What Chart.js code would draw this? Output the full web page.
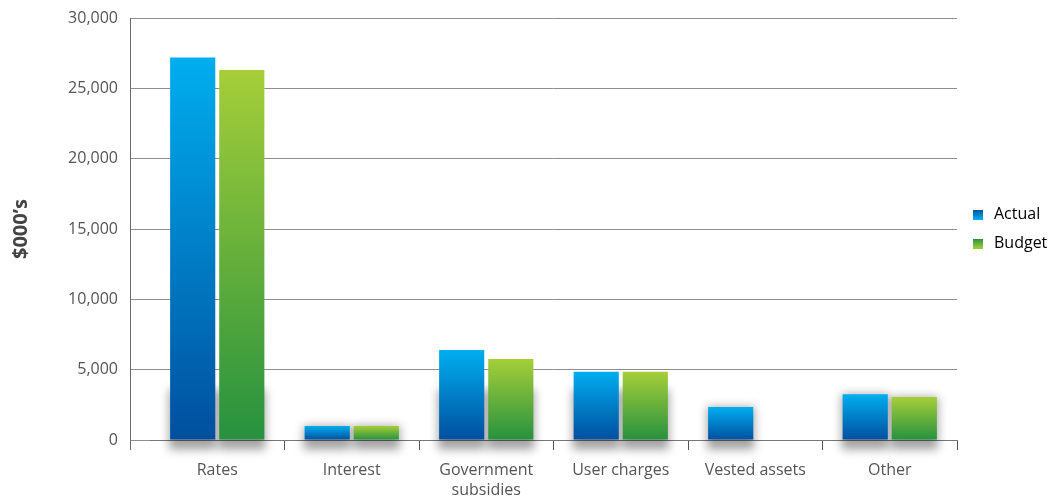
<!DOCTYPE html>
<html>
<head>
<meta charset="utf-8">
<script src="https://cdn.jsdelivr.net/npm/chart.js@4"></script>
<style>
  html, body { margin: 0; padding: 0; background: #fff; }
  #wrap { width: 1054px; height: 499px; position: relative; }
</style>
</head>
<body>
<div id="wrap"><canvas id="revenueChart"></canvas></div>
<script>
// Values ($000's)
const categories = ['Rates', 'Interest', ['Government', 'subsidies'], 'User charges', 'Vested assets', 'Other'];
const actualValues = [27200, 1000, 6400, 4850, 2350, 3250];
const budgetValues = [26300, 1000, 5750, 4850, null, 3050];
const yTicks = [0, 5000, 10000, 15000, 20000, 25000, 30000];

const FONT = "'Open Sans', 'Noto Sans', sans-serif";

const palette = {
  actual: { top: '#00aeef', bottom: '#004f9e' },
  budget: { top: '#a6ce39', bottom: '#26913f' }
};

// gradient per bar, running from its top to the baseline
const barGradient = (colors) => (c) => {
  const chart = c.chart;
  if (!chart.chartArea || c.raw == null) return colors.bottom;
  const y = chart.scales.y;
  const top = y.getPixelForValue(c.raw);
  const bot = y.getPixelForValue(0);
  const g = chart.ctx.createLinearGradient(0, top, 0, bot);
  g.addColorStop(0, colors.top);
  g.addColorStop(1, colors.bottom);
  return g;
};

// small gradient squares for the legend
const legendSwatch = (colors) => {
  const cv = document.createElement('canvas');
  cv.width = 10; cv.height = 10;
  const cx = cv.getContext('2d');
  const g = cx.createLinearGradient(0, 0, 0, 10);
  g.addColorStop(0, colors.bottom);
  g.addColorStop(1, colors.top);
  cx.fillStyle = g;
  cx.fillRect(0, 0, 10, 10);
  return cv;
};

// soft shadow under the lower part of each bar
const barShadows = {
  id: 'barShadows',
  beforeDatasetsDraw(chart) {
    const ctx = chart.ctx;
    ctx.save();
    ctx.filter = 'blur(5px)';
    ctx.fillStyle = 'rgba(0,0,0,0.36)';
    chart.data.datasets.forEach((ds, i) => {
      chart.getDatasetMeta(i).data.forEach((bar, j) => {
        if (ds.data[j] == null) return;
        const { x, y, base, width } = bar.getProps(['x', 'y', 'base', 'width'], true);
        const top = Math.max(y, base - 50);
        ctx.fillRect(x - width / 2 - 1, top, width + 2, base - top + 10);
      });
    });
    ctx.restore();
  }
};

// left axis line, drawn where the gridline ticks start
const leftAxis = {
  id: 'leftAxis',
  afterDraw(chart) {
    const { ctx, chartArea, scales } = chart;
    const x = Math.round(chartArea.left - scales.y.options.grid.tickLength) + 0.5;
    ctx.save();
    ctx.strokeStyle = '#6a6a6a';
    ctx.lineWidth = 1;
    ctx.beginPath();
    ctx.moveTo(x, scales.y.getPixelForValue(30000));
    ctx.lineTo(x, chartArea.bottom + 10);
    ctx.stroke();
    ctx.restore();
  }
};

new Chart(document.getElementById('revenueChart'), {
  type: 'bar',
  data: {
    labels: categories,
    datasets: [
      {
        label: 'Actual',
        data: actualValues,
        backgroundColor: barGradient(palette.actual),
        borderWidth: 0
      },
      {
        label: 'Budget',
        data: budgetValues,
        backgroundColor: barGradient(palette.budget),
        borderWidth: 0
      }
    ]
  },
  options: {
    responsive: true,
    maintainAspectRatio: false,
    animation: false,
    categoryPercentage: 0.73,
    barPercentage: 0.92,
    layout: { padding: { top: 18, left: 0, right: 0, bottom: 0 } },
    scales: {
      x: {
        afterFit: (scale) => {
          scale.height = 59;
          scale.paddingTop = 0;
          scale.paddingBottom = 0;
        },
        grid: {
          drawOnChartArea: false,
          drawTicks: true,
          tickLength: 10,
          color: (c) => (c.index === 0 ? 'rgba(0,0,0,0)' : '#555')
        },
        border: { color: '#777' },
        ticks: {
          color: '#555',
          padding: 10,
          maxRotation: 0,
          autoSkip: false,
          font: { family: FONT, size: 16, lineHeight: 1.25 }
        }
      },
      y: {
        min: 0,
        max: 30000,
        afterBuildTicks: (scale) => { scale.ticks = yTicks.map(v => ({ value: v })); },
        afterFit: (scale) => {
          scale.width = 150;
          scale.paddingTop = 0;
          scale.paddingBottom = 0;
        },
        grid: { color: '#8e8e8e', tickLength: 20, drawTicks: true },
        border: { display: false },
        ticks: {
          color: '#555',
          padding: 12,
          font: { family: FONT, size: 16 },
          callback: (v) => v.toLocaleString('en-US')
        },
        title: {
          display: true,
          text: '$000’s',
          color: '#444',
          padding: { top: 9, bottom: 0 },
          font: { family: FONT, size: 20, weight: 'bold' }
        }
      }
    },
    plugins: {
      legend: {
        position: 'right',
        fullSize: false,
        maxWidth: 97,
        labels: {
          usePointStyle: true,
          padding: 13,
          color: '#555',
          font: { family: FONT, size: 16 },
          generateLabels: () => [
            { text: 'Actual', pointStyle: legendSwatch(palette.actual), fillStyle: palette.actual.bottom, strokeStyle: 'rgba(0,0,0,0)', lineWidth: 0, hidden: false, datasetIndex: 0 },
            { text: 'Budget', pointStyle: legendSwatch(palette.budget), fillStyle: palette.budget.bottom, strokeStyle: 'rgba(0,0,0,0)', lineWidth: 0, hidden: false, datasetIndex: 1 }
          ]
        }
      },
      tooltip: { enabled: false }
    }
  },
  plugins: [barShadows, leftAxis]
});
</script>
</body>
</html>
